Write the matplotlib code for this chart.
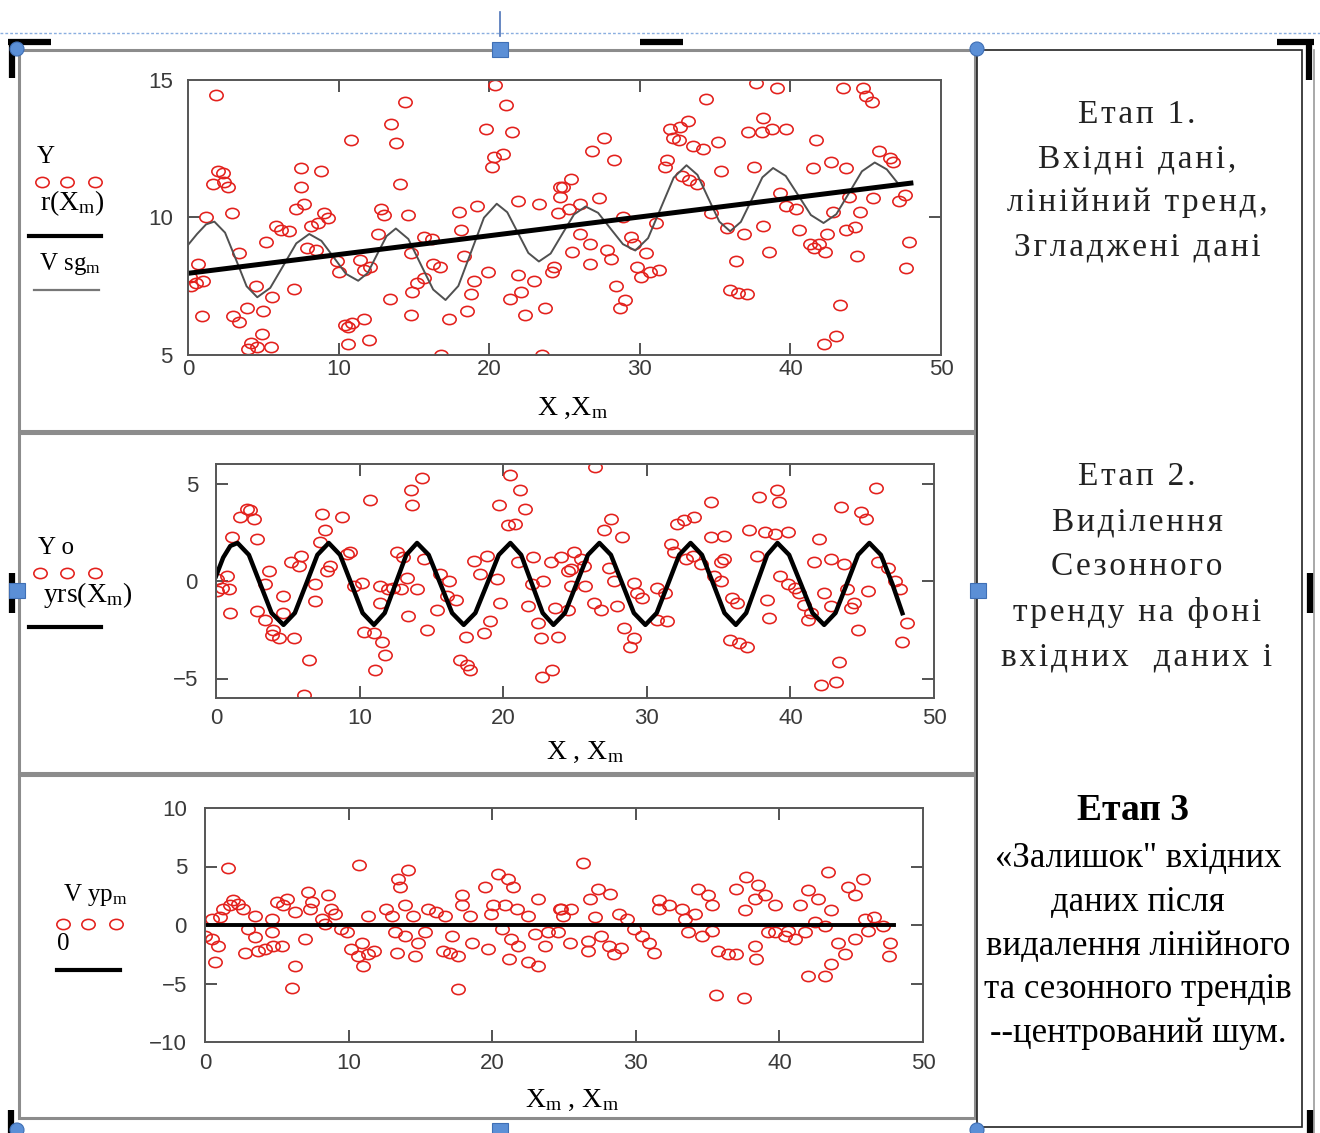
import numpy as np
import matplotlib.pyplot as plt
from matplotlib.path import Path
from matplotlib.transforms import Affine2D
from matplotlib.patches import Rectangle, Circle

plt.rcParams['font.family'] = ['Liberation Serif', 'DejaVu Serif', 'DejaVu Sans']
plt.rcParams['mathtext.fontset'] = 'custom'
plt.rcParams['mathtext.rm'] = 'Liberation Serif'
plt.rcParams['mathtext.it'] = 'Liberation Serif:italic'

# ---- етап 1: вхідні дані Y(X) ----
x1 = [1.88, 14.4, 20.4, 21.1, 13.5, 13.8, 10.8, 19.8, 21.5, 20.3,
      20.9, 20.2, 14.1, 2.0, 2.3, 1.65, 2.4, 2.65, 7.5, 8.8,
      7.5, 7.7, 7.2, 9.05, 9.3, 8.6, 8.2, 2.9, 1.2, 12.8,
      13.0, 14.6, 5.85, 6.2, 6.7, 5.2, 12.6, 15.7, 16.2, 18.0,
      19.2, 18.1, 21.9, 23.3, 24.7, 24.6, 7.9, 8.5, 0.66, 3.4,
      11.4, 12.1, 11.7, 9.9, 10.0, 0.1, 0.55, 1.0, 0.2, 14.8,
      16.3, 16.7, 18.3, 19.9, 19.0, 18.8, 18.5, 21.9, 23.0, 24.3,
      21.4, 22.1, 22.4, 23.7, 24.2, 15.2, 15.7, 14.9, 13.4, 14.8,
      17.3, 7.05, 5.6, 4.5, 0.9, 3.0, 3.4, 3.9, 5.0, 4.9,
      4.2, 4.6, 5.5, 4.0, 10.4, 10.9, 11.7, 10.6, 10.6, 12.0,
      16.8, 23.5, 37.7, 39.1, 34.4, 43.5, 44.8, 45.0, 45.4, 33.2,
      32.7, 32.0, 32.2, 32.6, 33.55, 34.2, 35.2, 38.2, 37.2, 38.1,
      38.8, 39.7, 27.6, 26.8, 28.3, 41.7, 45.9, 46.6, 46.8, 42.7,
      41.5, 43.7, 37.6, 31.8, 31.7, 32.8, 33.3, 33.8, 35.4, 25.4,
      24.9, 24.7, 27.3, 26.0, 25.3, 28.9, 34.7, 39.3, 38.2, 39.7,
      40.4, 40.6, 45.5, 43.9, 47.2, 47.6, 44.6, 43.7, 44.3, 42.8,
      42.4, 41.9, 41.3, 41.6, 42.3, 44.4, 47.9, 47.7, 35.8, 36.9,
      36.4, 38.6, 31.1, 26.0, 26.7, 25.5, 26.7, 27.8, 28.1, 29.4,
      29.6, 30.4, 29.8, 30.7, 31.3, 30.1, 28.4, 29.0, 28.7, 36.0,
      36.5, 37.1, 43.3, 42.2, 43.0]
y1 = [14.45, 14.2, 14.8, 14.1, 13.4, 12.7, 12.8, 13.2, 13.1, 12.2,
      12.3, 11.85, 11.2, 11.7, 11.6, 11.2, 11.3, 11.1, 11.8, 11.7,
      11.1, 10.5, 10.3, 10.15, 9.97, 9.8, 9.7, 10.15, 10.0, 10.3,
      10.1, 10.1, 9.7, 9.55, 9.5, 9.1, 9.4, 9.3, 9.2, 10.2,
      10.4, 9.55, 10.6, 10.5, 11.1, 10.15, 8.9, 8.8, 8.3, 8.7,
      8.45, 8.2, 8.1, 8.4, 8.0, 7.85, 7.6, 7.7, 7.5, 8.7,
      8.3, 8.2, 8.6, 8.0, 7.7, 7.2, 6.6, 7.9, 7.7, 8.2,
      7.05, 7.3, 6.45, 6.7, 8.0, 7.6, 7.8, 7.3, 7.05, 6.45,
      6.3, 7.4, 7.1, 7.5, 6.4, 6.4, 6.2, 6.7, 6.6, 5.75,
      5.45, 5.3, 5.3, 5.2, 6.1, 6.15, 6.3, 6.0, 5.4, 5.55,
      5.0, 5.0, 14.9, 14.7, 14.3, 14.7, 14.7, 14.4, 14.2, 13.5,
      13.3, 13.2, 12.9, 12.8, 12.6, 12.5, 12.75, 13.6, 13.1, 13.1,
      13.2, 13.2, 12.9, 12.4, 12.1, 12.8, 12.4, 12.15, 12.0, 12.0,
      11.8, 11.8, 11.85, 12.1, 11.85, 11.5, 11.35, 11.2, 11.7, 11.4,
      11.1, 10.75, 10.7, 10.5, 10.3, 10.0, 10.15, 10.9, 9.7, 10.4,
      10.3, 9.55, 10.7, 10.75, 10.6, 10.8, 10.2, 9.55, 9.65, 10.2,
      9.4, 9.05, 9.05, 8.9, 8.75, 8.6, 9.1, 8.15, 9.6, 9.4,
      8.4, 8.75, 9.8, 9.4, 9.05, 8.75, 8.3, 8.8, 8.5, 9.3,
      9.05, 8.7, 8.2, 8.0, 8.1, 7.85, 7.5, 7.0, 6.7, 7.35,
      7.25, 7.2, 6.8, 5.4, 5.7]

# лінійний тренд
trend_x = [0, 48]
trend_y = [7.97, 11.25]

# згладжені дані V sg
sg_x = [0, 0.6, 1.2, 1.75, 2.46, 3.18, 3.89, 4.6, 5.46, 6.33,
        7.19, 8.05, 8.86, 9.68, 10.49, 11.3, 11.93, 12.55, 13.18, 13.8,
        14.63, 15.45, 16.28, 17.1, 17.95, 18.8, 19.65, 20.5, 21.2, 21.9,
        22.6, 23.3, 24.08, 24.85, 25.63, 26.4, 27.23, 28.05, 28.88, 29.7,
        30.55, 31.4, 32.25, 33.1, 33.83, 34.55, 35.28, 36.0, 36.71, 37.43,
        38.14, 38.85, 39.69, 40.53, 41.36, 42.2, 43.05, 43.9, 44.75, 45.6,
        46.4, 47.2]
sg_y = [9.0, 9.4, 9.75, 9.85, 9.45, 8.48, 7.5, 7.1, 7.44, 8.25,
        9.06, 9.4, 9.15, 8.55, 7.95, 7.7, 7.98, 8.65, 9.32, 9.6,
        9.22, 8.3, 7.38, 7.0, 7.51, 8.75, 9.99, 10.5, 10.19, 9.45,
        8.71, 8.4, 8.69, 9.4, 10.11, 10.4, 10.17, 9.6, 9.03, 8.8,
        9.25, 10.35, 11.45, 11.9, 11.55, 10.7, 9.85, 9.5, 9.84, 10.65,
        11.46, 11.8, 11.51, 10.8, 10.09, 9.8, 10.12, 10.9, 11.68, 12.0,
        11.75, 11.2]

# ---- етап 2: дані без лінійного тренду ----
x2 = [20.5, 14.35, 13.55, 13.66, 10.75, 21.2, 21.55, 19.7, 20.3, 20.85,
      2.16, 1.7, 2.62, 2.4, 2.86, 1.1, 7.4, 8.8, 7.6, 7.27,
      5.9, 5.2, 5.76, 9.13, 9.36, 7.97, 7.74, 0.07, 0.42, 0.07,
      0.88, 0.77, 3.67, 3.44, 1.0, 2.86, 3.44, 3.9, 4.37, 4.0,
      5.4, 4.7, 4.7, 6.9, 6.9, 6.46, 6.1, 9.6, 10.2, 11.45,
      12.0, 11.45, 10.3, 11.0, 11.57, 11.8, 11.1, 12.6, 13.0, 13.3,
      14.0, 13.4, 14.7, 14.47, 15.6, 16.2, 15.4, 16.1, 16.7, 17.0,
      17.5, 17.7, 17.4, 18.65, 19.1, 18.0, 18.9, 19.6, 18.4, 19.8,
      22.7, 23.4, 21.7, 22.4, 22.6, 23.8, 22.1, 23.3, 24.0, 21.0,
      24.5, 24.7, 23.6, 22.8, 22.0, 12.85, 12.3, 26.4, 34.45, 37.8,
      39.1, 39.2, 43.5, 45.95, 44.9, 45.25, 27.5, 27.0, 28.3, 32.1,
      32.6, 33.3, 31.66, 31.9, 34.45, 35.4, 37.1, 38.2, 38.9, 39.8,
      42.0, 37.7, 41.65, 42.8, 43.7, 24.9, 25.4, 24.7, 25.6, 27.4,
      27.7, 29.1, 29.3, 29.7, 30.7, 31.3, 32.7, 33.2, 33.75, 35.15,
      34.7, 35.15, 35.4, 35.96, 36.3, 38.4, 38.5, 35.8, 36.4, 37.0,
      39.3, 39.8, 40.3, 40.6, 40.95, 41.4, 41.2, 42.35, 42.8, 44.2,
      44.7, 44.45, 43.97, 45.4, 46.1, 46.8, 47.3, 47.6, 48.15, 47.8,
      43.4, 43.16, 42.1, 25.7, 26.3, 26.8, 27.9, 28.4, 29.1, 28.8,
      30.7, 31.4, 24.5]
y2 = [5.44, 5.27, 4.66, 3.89, 4.15, 4.66, 3.71, 3.89, 2.85, 2.94,
      3.71, 3.28, 3.2, 3.63, 2.16, 2.25, 3.45, 3.28, 2.6, 1.99,
      1.3, 0.95, 0.78, 1.38, 1.47, 0.78, 0.52, 0.09, -0.35, -0.52,
      -0.43, 0.26, 0.52, -0.17, -1.64, -1.55, -1.99, -2.76, -2.94, -2.5,
      -2.94, -0.78, -1.64, -0.17, -1.04, -4.06, -5.87, -0.26, -0.09, -0.26,
      -0.43, -1.12, -2.6, -2.68, -3.11, -3.8, -4.58, 1.47, 1.21, 0.17,
      -0.43, -1.81, -2.5, 1.12, 0.35, 0.0, -1.47, -0.78, -0.95, -4.06,
      -4.32, -4.58, -2.85, -2.68, -2.07, 1.04, 1.3, 0.09, 0.35, -1.12,
      -4.92, -4.58, -1.3, -2.16, -2.94, -2.85, 1.21, 0.95, 1.21, 0.95,
      0.52, -0.26, -1.38, 0.0, -0.17, -0.43, -0.35, 5.87, 4.06, 4.32,
      4.66, 4.06, 3.8, 4.75, 3.54, 3.2, 3.2, 2.6, 2.25, 2.94,
      3.11, 3.28, 1.9, 1.47, 2.25, 2.33, 2.6, 2.5, 2.4, 2.5,
      2.16, 1.3, 0.95, 1.12, 0.86, 1.47, 1.12, 0.6, 0.78, 0.69,
      0.0, -0.09, -0.6, -0.86, -0.35, -0.6, 1.12, 1.3, 0.86, 0.95,
      0.26, 0.0, 1.12, -0.86, -1.12, -0.95, -1.9, -3.02, -3.2, -3.37,
      0.26, -0.17, -0.35, -0.6, -1.21, -1.64, -1.99, -0.6, -1.3, -1.38,
      -2.5, -1.12, -0.43, -0.52, 0.95, 0.69, 0.0, -0.43, -2.16, -3.11,
      -4.15, -5.18, -5.35, -0.26, -1.12, -1.47, -1.3, -2.42, -2.94, -3.37,
      -1.99, -2.07, -1.47]

# сезонний тренд yrs(X)
rs_x = [0, 0.5, 1.0, 1.5, 2.29, 3.08, 3.87, 4.7, 5.49, 6.28,
        7.06, 7.85, 8.64, 9.43, 10.21, 11.0, 11.75, 12.5, 13.25, 14.0,
        14.81, 15.63, 16.44, 17.25, 18.06, 18.88, 19.69, 20.5, 21.25, 22.0,
        22.75, 23.5, 24.3, 25.1, 25.9, 26.7, 27.5, 28.3, 29.1, 29.9,
        30.69, 31.48, 32.26, 33.05, 33.84, 34.63, 35.41, 36.2, 36.92, 37.65,
        38.38, 39.1, 39.91, 40.73, 41.54, 42.35, 43.14, 43.93, 44.71, 45.5,
        46.3, 47.1, 47.8]
rs_y = [0.25, 1.2, 1.8, 1.95, 1.34, -0.15, -1.64, -2.25, -1.64, -0.15,
        1.34, 1.95, 1.34, -0.15, -1.64, -2.25, -1.64, -0.15, 1.34, 1.95,
        1.34, -0.15, -1.64, -2.25, -1.64, -0.15, 1.34, 1.95, 1.34, -0.15,
        -1.64, -2.25, -1.64, -0.15, 1.34, 1.95, 1.34, -0.15, -1.64, -2.25,
        -1.64, -0.15, 1.34, 1.95, 1.34, -0.15, -1.64, -2.25, -1.64, -0.15,
        1.34, 1.95, 1.34, -0.15, -1.64, -2.25, -1.64, -0.15, 1.34, 1.95,
        1.34, -0.15, -1.65]

# ---- етап 3: залишок (центрований шум) ----
x3 = [1.62, 10.7, 14.15, 13.45, 13.57, 20.4, 21.1, 21.46, 19.5, 1.97,
      1.74, 2.3, 1.28, 2.67, 1.04, 0.46, 5.0, 5.68, 5.45, 6.26,
      7.2, 7.42, 7.3, 8.6, 8.8, 9.05, 8.12, 8.35, 3.5, 4.64,
      3.0, 9.5, 9.86, 6.96, 0.0, 0.46, 0.93, 0.7, 2.78, 3.7,
      4.18, 4.75, 5.34, 6.26, 6.03, 3.48, 4.64, 10.2, 10.9, 11.37,
      11.0, 10.67, 11.8, 11.37, 12.6, 13.0, 13.9, 14.5, 13.2, 13.35,
      13.9, 14.6, 14.85, 15.55, 16.1, 16.7, 15.3, 16.6, 17.05, 17.6,
      17.6, 17.87, 17.87, 18.45, 17.2, 18.56, 19.7, 20.07, 19.95, 20.9,
      21.7, 20.65, 21.3, 21.8, 21.2, 22.5, 23.2, 23.0, 23.9, 23.7,
      23.2, 22.5, 24.7, 26.3, 27.4, 28.2, 26.8, 24.8, 25.5, 24.95,
      27.15, 28.8, 29.4, 24.6, 25.4, 26.7, 26.7, 27.6, 28.1, 28.5,
      29.0, 29.9, 30.4, 30.9, 31.3, 31.6, 32.3, 33.2, 31.6, 33.4,
      34.1, 34.35, 35.0, 35.3, 33.65, 34.6, 35.3, 35.7, 36.4, 37.0,
      38.3, 38.4, 35.6, 37.5, 37.7, 37.0, 38.5, 39.0, 38.3, 37.6,
      39.7, 39.7, 40.4, 41.1, 41.8, 41.4, 42.0, 42.7, 43.6, 43.4,
      44.8, 45.25, 45.8, 44.1, 44.6, 43.6, 43.2, 42.0, 42.5, 43.2,
      45.95, 46.6, 47.2, 47.7, 47.6, 45.25, 46.2, 39.2, 40.6]
y3 = [4.83, 5.1, 4.68, 3.97, 3.25, 4.4, 3.97, 3.25, 3.25, 2.1,
      1.67, 1.81, 1.38, 1.38, 0.66, 0.52, 1.95, 2.24, 1.67, 1.09,
      2.82, 1.95, 1.38, 2.53, 1.38, 0.95, 0.52, 0.09, 0.8, 0.52,
      -0.34, -0.34, -0.63, -1.2, -0.92, -1.2, -1.78, -3.2, -2.36, -2.2,
      -2.07, -1.78, -1.78, -3.5, -5.37, -1.06, -0.63, -2.07, -1.5, -2.5,
      -3.5, -2.64, -2.2, 0.8, 1.38, 0.8, 1.67, 0.8, -0.63, -2.36,
      -0.92, -2.64, -1.5, 1.38, 1.09, 0.8, -0.63, -2.2, -2.36, -2.64,
      -5.5, 2.53, 1.67, 0.8, -0.92, -1.5, -2.07, 1.67, 0.95, 1.67,
      1.38, -0.34, -1.2, -1.78, -2.93, -3.2, -3.5, -0.78, -0.63, -1.78,
      2.24, 0.8, 1.38, 5.26, 3.1, 2.67, 2.24, 1.38, 1.38, 0.8,
      0.66, 0.95, 0.52, -0.63, -1.5, -1.35, -2.2, -0.92, -1.78, -2.5,
      -1.93, -0.34, -0.92, -1.5, -2.36, 1.38, 1.67, 1.38, 2.1, 0.52,
      0.95, 3.1, 2.53, 1.67, -0.63, -0.92, -0.49, -2.2, -2.5, -2.5,
      -1.78, -2.93, -5.95, -6.24, 4.1, 3.1, 3.4, 2.53, 2.24, 1.24,
      1.67, -0.63, -0.92, -1.2, -0.63, 1.67, 2.96, 2.24, 1.24, 4.54,
      3.25, 2.53, 3.97, -1.5, -2.5, -3.36, -4.37, -4.37, 0.23, -0.06,
      0.52, 0.66, -0.06, -1.5, -2.64, -1.2, -0.49, -0.63, -0.49]

zero_x = [0, 48]
zero_y = [0, 0]

stage1 = ['Етап 1.', 'Вхідні дані,', 'лінійний тренд,', 'Згладжені дані']
stage2 = ['Етап 2.', 'Виділення', 'Сезонного', 'тренду на фоні', 'вхідних  даних і']
stage3 = ['Етап 3', '«Залишок" вхідних', 'даних після', 'видалення лінійного',
          'та сезонного трендів', '--центрований шум.']

W, H = 1320, 1133
RED = '#e3201c'
ell = Affine2D().scale(1.3, 1.0).transform_path(Path.unit_circle())
mk = dict(marker=ell, ls='none', ms=9.6, mfc='none', mec=RED, mew=1.15)


def spaced(s):
    # розріджений текст, як у документі
    return '\u200a'.join(s)


fig = plt.figure(figsize=(W / 100, H / 100), dpi=100)

# фонова вісь у пікселях: рамки, маркери, підписи
bg = fig.add_axes([0, 0, 1, 1])
bg.set_xlim(0, W)
bg.set_ylim(H, 0)
bg.axis('off')

bg.plot([0, W], [33, 33], color='#8aaee0', lw=1, ls=(0, (2, 1.5)))
bg.plot([500, 500], [12, 36], color='#4d73b8', lw=1.2)
# сірі рамки лівої колонки
for y0, y1_ in [(50, 431), (433, 773), (775, 1118)]:
    bg.add_patch(Rectangle((19, y0), 956, y1_ - y0, fill=False, ec='#8c8c8c', lw=2.2))
# права колонка
bg.add_patch(Rectangle((977, 50), 325, 1077, fill=False, ec='#222222', lw=1.2))
bg.plot([1314, 1314], [50, 1133], color='#9a9a9a', lw=1.2)
# чорні кутові позначки
for xs, ys in [([8, 51], [42, 42]), ([12, 12], [39, 78]), ([640, 683], [42, 42]),
               ([1277, 1314], [42, 42]), ([1309, 1309], [39, 80]),
               ([1310, 1310], [573, 613]), ([12, 12], [573, 613]),
               ([11, 11], [1110, 1133]), ([1310, 1310], [1110, 1133])]:
    bg.plot(xs, ys, color='black', lw=4.5, solid_capstyle='butt')
# маркери виділення
for cx, cy in [(17, 49), (977, 49), (17, 1130), (977, 1130)]:
    bg.add_patch(Circle((cx, cy), 7, fc='#5b8fd6', ec='#3f6fb5', lw=0.8, zorder=5))
for cx, cy in [(500, 49), (17, 590), (978, 590), (500, 1130)]:
    bg.add_patch(Rectangle((cx - 8, cy - 7.5), 16, 15, fc='#5b8fd6', ec='#3f6fb5',
                           lw=0.8, zorder=5))

# легенди ліворуч від графіків
bg.text(46, 157, 'Y', fontsize=18, ha='center', va='center')
bg.plot([42, 67, 95], [182, 182, 182], **mk)
bg.text(72, 203, r'r(X$_{\rm m}$)', fontsize=20, ha='center', va='center')
bg.plot([29, 101], [236, 236], color='black', lw=3)
bg.text(70, 264, r'V sg$_{\rm m}$', fontsize=18, ha='center', va='center')
bg.plot([34, 99], [290, 290], color='#777777', lw=1.6)

bg.text(56, 548, 'Y o', fontsize=18, ha='center', va='center')
bg.plot([40, 67, 95], [573, 573, 573], **mk)
bg.text(88, 595, r'yrs(X$_{\rm m}$)', fontsize=20, ha='center', va='center')
bg.plot([29, 101], [627, 627], color='black', lw=3)

bg.text(95, 895, r'V yp$_{\rm m}$', fontsize=18, ha='center', va='center')
bg.plot([63, 88, 116], [924, 924, 924], **mk)
bg.text(63, 944, '0', fontsize=18, ha='center', va='center')
bg.plot([57, 120], [970, 970], color='black', lw=3)

# підписи осей X
bg.text(573, 408, r'X ,X$_{\rm m}$', fontsize=20, ha='center', va='center')
bg.text(585, 752, r'X , X$_{\rm m}$', fontsize=20, ha='center', va='center')
bg.text(572, 1100, r'X$_{\rm m}$ , X$_{\rm m}$', fontsize=20, ha='center', va='center')

# текст праворуч
for i, s in enumerate(stage1):
    bg.text(1137, 115 + i * 44, spaced(s), fontsize=24, ha='center', va='center',
            color='#222222')
for i, s in enumerate(stage2):
    bg.text(1137, 477 + i * 45, spaced(s), fontsize=24, ha='center', va='center',
            color='#222222')
bg.text(1133, 811, stage3[0], fontsize=27, ha='center', va='center', fontweight='bold')
for i, s in enumerate(stage3[1:]):
    bg.text(1138, 858 + i * 44, s, fontsize=25, ha='center', va='center')


def px_axes(x0, y0, x1, y1):
    return fig.add_axes([x0 / W, 1 - y1 / H, (x1 - x0) / W, (y1 - y0) / H])


def style(ax, ylim, ylabels, yticks, xpad, ypad):
    ax.set_xlim(0, 50)
    ax.set_ylim(*ylim)
    ax.xaxis.remove_overlapping_locs = False
    ax.yaxis.remove_overlapping_locs = False
    ax.set_xticks([0, 10, 20, 30, 40, 50])
    ax.set_yticks(ylabels)
    ax.set_xticks([10, 20, 30, 40], minor=True)
    ax.set_yticks(yticks, minor=True)
    ax.tick_params(which='major', length=0, labelsize=16, labelcolor='#3a3a3a')
    ax.tick_params(axis='x', which='major', pad=xpad)
    ax.tick_params(axis='y', which='major', pad=ypad)
    ax.tick_params(which='minor', direction='in', length=8.5, width=1.3, color='#444444',
                   top=True, right=True, bottom=True, left=True)
    for t in ax.get_xticklabels() + ax.get_yticklabels():
        t.set_fontfamily(['Liberation Sans', 'DejaVu Sans'])
    for sp in ax.spines.values():
        sp.set_color('#555555')
        sp.set_linewidth(1.4)


ax1 = px_axes(188, 80, 941, 355)
ax1.plot(x1, y1, **mk)
ax1.plot(sg_x, sg_y, color='#505050', lw=1.4)
ax1.plot(trend_x, trend_y, color='black', lw=3.6)
style(ax1, (5, 15), [5, 10, 15], [10], 3, 11)

ax2 = px_axes(216, 464, 934, 698)
ax2.plot(x2, y2, **mk)
ax2.plot(rs_x, rs_y, color='black', lw=3.2)
style(ax2, (-6, 6), [-5, 0, 5], [-5, 0, 5], 7, 13)

ax3 = px_axes(205, 808, 923, 1042)
ax3.plot(x3, y3, **mk)
ax3.plot(zero_x, zero_y, color='black', lw=2.8)
style(ax3, (-10, 10), [-10, -5, 0, 5, 10], [-5, 0, 5], 8, 13)

fig.savefig('out.png', dpi=100)
